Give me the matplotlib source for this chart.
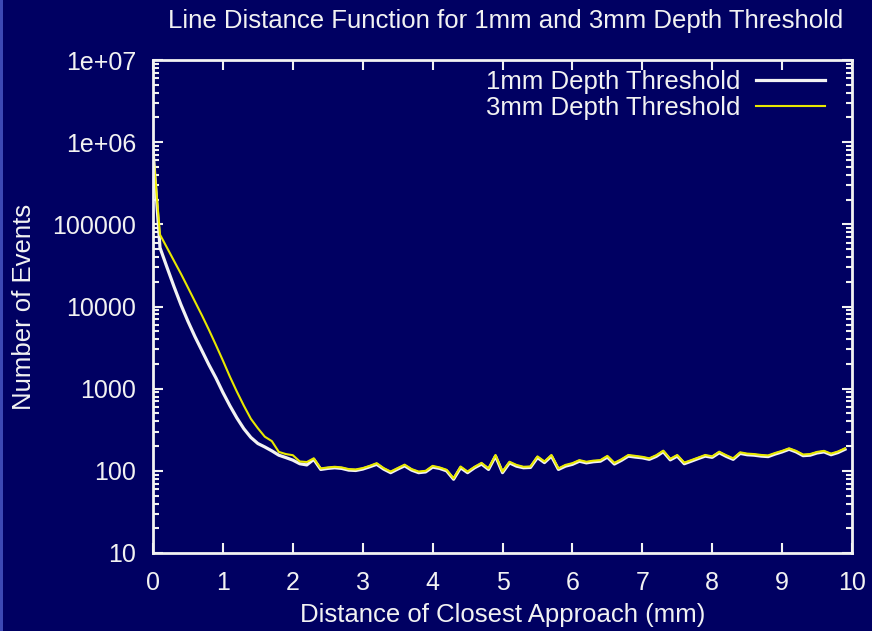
import numpy as np
import matplotlib
matplotlib.use("Agg")
from matplotlib import pyplot as plt
from matplotlib.ticker import LogLocator, FixedLocator, NullFormatter
import matplotlib.patches as mpatches

# distance of closest approach (mm), 0.1 mm bins
dist = [round(0.1 * i, 1) for i in range(100)]

# 3mm depth threshold
events_3mm = [
    8.0e5, 7.5e4, 5.2e4, 3.6e4, 2.5e4, 1.7e4, 1.15e4, 7.8e3, 5.2e3, 3.4e3,
    2.2e3, 1.4e3, 920, 620, 430, 330, 260, 230, 170, 160,
    155, 130, 128, 142, 107, 110, 112, 110, 105, 104,
    108, 115, 124, 108, 98, 108, 119, 105, 98, 100,
    115, 110, 103, 81, 113, 98, 112, 125, 107, 156,
    98, 129, 118, 112, 113, 150, 130, 156, 107, 118,
    124, 135, 129, 133, 135, 152, 125, 138, 156, 152,
    148, 142, 155, 176, 140, 156, 126, 135, 145, 156,
    150, 171, 155, 142, 168, 162, 160, 156, 154, 165,
    175, 188, 175, 158, 160, 170, 175, 162, 172, 188,
]

# 1mm depth threshold
events_1mm = [
    8.0e5, 5.2e4, 3.0e4, 1.75e4, 1.05e4, 6.6e3, 4.3e3, 2.9e3, 1.95e3, 1.35e3,
    900, 620, 440, 325, 255, 215, 195, 175, 155, 145,
    135, 122, 118, 138, 104, 107, 109, 107, 102, 101,
    105, 112, 120, 105, 95, 105, 115, 102, 95, 97,
    111, 107, 100, 79, 109, 95, 109, 121, 104, 151,
    95, 125, 114, 109, 110, 145, 126, 151, 104, 114,
    120, 131, 125, 129, 131, 147, 121, 134, 151, 147,
    144, 138, 150, 171, 136, 151, 122, 131, 141, 151,
    146, 166, 150, 138, 163, 157, 155, 151, 149, 160,
    170, 183, 170, 153, 155, 165, 170, 157, 167, 183,
]

bg = "#000062"
fg = "#f2f2f2"

plt.rcParams["font.family"] = ["Liberation Sans", "DejaVu Sans"]

fig = plt.figure(figsize=(8.72, 6.31), dpi=100, facecolor=bg)
ax = fig.add_axes([153 / 872, 1 - 553 / 631, 699 / 872, 493 / 631], facecolor=bg)

# light strip at the left edge of the picture
fig.patches.append(mpatches.Rectangle((0, 0), 3 / 872, 1, transform=fig.transFigure,
                                      facecolor="#3c48b4", edgecolor="none", zorder=0))

ax.plot(dist, events_1mm, color=fg, lw=2.3, label="1mm Depth Threshold")
ax.plot(dist, events_3mm, color="#e8e800", lw=1.5, label="3mm Depth Threshold")

ax.set_yscale("log")
ax.set_xlim(0, 10)
ax.set_ylim(10, 1e7)
ax.set_xticks(range(0, 11))
ax.yaxis.set_major_locator(FixedLocator([1e1, 1e2, 1e3, 1e4, 1e5, 1e6, 1e7]))
ax.set_yticklabels(["10", "100", "1000", "10000", "100000", "1e+06", "1e+07"])
ax.yaxis.set_minor_locator(LogLocator(base=10, subs=np.arange(2, 10)))
ax.yaxis.set_minor_formatter(NullFormatter())

for s in ax.spines.values():
    s.set_color(fg)
    s.set_linewidth(2)

ax.tick_params(which="both", direction="in", colors=fg, top=True, right=True,
               labelsize=18, width=1.5)
ax.tick_params(which="major", length=7, pad=12)
ax.tick_params(which="minor", length=4)
ax.tick_params(axis="x", pad=13)

ax.set_xlabel("Distance of Closest Approach (mm)", color=fg, fontsize=18.5, labelpad=6)
ax.set_ylabel("Number of Events", color=fg, fontsize=18.5, labelpad=12)

fig.text(0.58, 0.966, "Line Distance Function for 1mm and 3mm Depth Threshold",
         color=fg, fontsize=18.5, ha="center", va="center")

leg = ax.legend(loc="upper right", frameon=False, markerfirst=False, fontsize=18.5,
                handlelength=2.7, handletextpad=0.6, labelspacing=0.05,
                borderaxespad=0.0, bbox_to_anchor=(0.976, 1.0))
for t in leg.get_texts():
    t.set_color(fg)
    t.set_ha("right")

fig.savefig("out.png", dpi=100, facecolor=bg)
